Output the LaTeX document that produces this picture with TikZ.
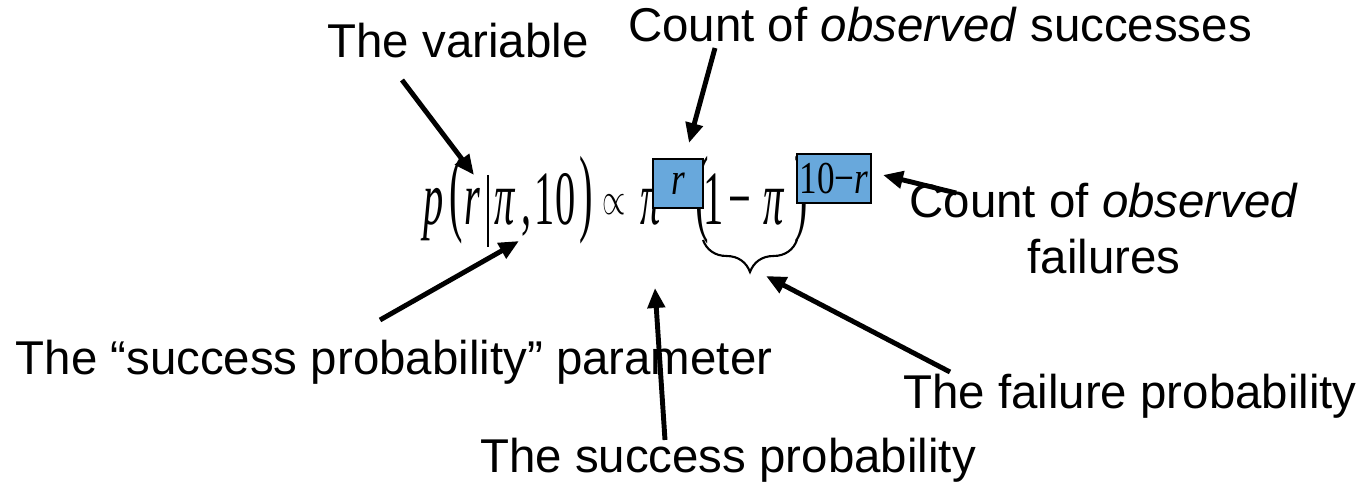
\documentclass[tikz,border=0pt]{standalone}
\usepackage{fontspec}
\setmainfont{Liberation Sans}
\newfontfamily\eqfont{Liberation Serif}
\usepackage{graphicx}
\usetikzlibrary{calc,arrows.meta,decorations.pathreplacing}
\newcommand{\vstretch}[2]{\scalebox{1}[#1]{#2}}

\begin{document}
\begin{tikzpicture}[
    x=0.02cm, y=-0.02cm,
    every node/.style={font=\fontsize{27}{32}\selectfont, inner sep=0pt},
    lbl/.style={anchor=base, align=center},
    glyph/.style={font=\eqfont\fontsize{23}{23}\selectfont, anchor=base},
    hibox/.style={draw=black, line width=1pt, fill=hiblue, minimum width=#1, minimum height=0.98cm, font=\eqfont\fontsize{20}{20}\selectfont},
    arr/.style={-{Triangle[length=0.4cm,width=0.34cm]}, line width=2.8pt, black},
  ]
    \definecolor{hiblue}{RGB}{104,168,220}
    \useasboundingbox (0,0) rectangle (1366,482);

    % the formula, glyph by glyph
    \node[glyph] (gp) at (434,225) {\vstretch{1.9}{\itshape p}};
    \node[glyph] (glp1) at (456,224) {\vstretch{2.4}{(}};
    \node[glyph] (gr) at (472,225) {\vstretch{1.9}{\itshape r}};
    \draw[line width=1pt] (488,175) -- (488,247);
    \node[glyph] (gpi1) at (505,225) {\vstretch{1.9}{\itshape π}};
    \node[glyph] (gcomma) at (527,225) {\vstretch{1.9}{,}};
    \node[glyph] (gten) at (555,225) {\vstretch{1.9}{10}};
    \node[glyph] (grp1) at (586,224) {\vstretch{2.4}{)}};
    \node[font=\fontsize{10}{12}\selectfont] (gprop) at (614,205) {\scalebox{1.7}[2.6]{$\propto$}};
    \node[glyph] (gpi2) at (651,225) {\vstretch{1.9}{\itshape π}};
    \node[glyph] (glp2) at (702,224) {\vstretch{2.4}{(}};
    \node[glyph] (gone) at (714,225) {\vstretch{1.9}{1}};
    \node[glyph] (gminus) at (740,225) {\vstretch{1.9}{−}};
    \node[glyph] (gpi3) at (774,225) {\vstretch{1.9}{\itshape π}};
    \node[glyph] (grp2) at (801,224) {\vstretch{2.4}{)}};
    \node[hibox=1cm] (rbox) at (678,183.5) {\vstretch{1.3}{\itshape r}};
    \node[hibox=1.48cm] (nbox) at (834,178.5) {\vstretch{1.3}{10−\textit{r}}};
    \draw[line width=1.2pt, decorate, decoration={brace, mirror, amplitude=0.64cm}]
      (703,240) -- (797,240);

    % where the arrows point
    \coordinate (atvar) at (474,175);
    \coordinate (atcnt) at (689,143);
    \coordinate (atfail) at (883,175);
    \coordinate (atparam) at (519,241);
    \coordinate (atsucc) at (655,288);
    \coordinate (atbrace) at (766,276);

    % labels
    \node[lbl] (var) at (458,58) {The variable};
    \node[lbl] (succ) at (940,42) {Count of \emph{observed} successes};
    \node[lbl] (fail) at (1104,274) {Count of \emph{observed}\\failures};
    \node[lbl] (param) at (394,375) {The “success probability” parameter};
    \node[lbl] (sprob) at (728,473) {The success probability};
    \node[lbl] (fprob) at (1130,409) {The failure probability};

    % arrows
    \draw[arr] ($(var.base)+(-56,22)$) -- (atvar);
    \draw[arr] ($(succ.base)+(-225,6)$) -- (atcnt);
    \draw[arr] ($(fail.north west)+(47,10)$) -- (atfail);
    \draw[arr] ($(param.base)+(-14,-55)$) -- (atparam);
    \draw[arr] ($(sprob.base)+(-63,-33)$) -- (atsucc);
    \draw[arr] ($(fprob.base)+(-180,-37)$) -- (atbrace);
\end{tikzpicture}
\end{document}
